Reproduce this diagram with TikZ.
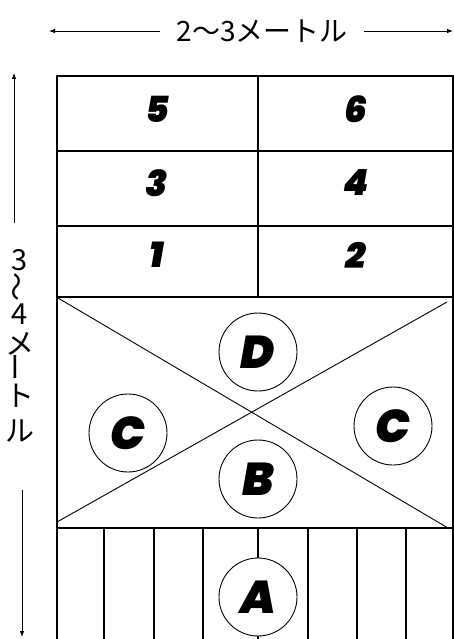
\documentclass[tikz,border=0pt]{standalone}
\usepackage{fontspec}
\usepackage{graphicx}
\usetikzlibrary{arrows.meta}
\newfontfamily\jpfont{Noto Sans CJK JP}
\newfontfamily\popfont{Poppins Black Italic}

\begin{document}
\begin{tikzpicture}[
    x=1pt, y=-1pt,
    jp/.style={font=\jpfont\fontsize{28}{28}\selectfont},
    jpv/.style={font=\jpfont\fontsize{29}{29}\selectfont, inner sep=0pt},
    num/.style={font=\popfont\fontsize{36}{36}\selectfont},
    spot/.style={circle, draw, line width=0.9pt, minimum size=78pt, inner sep=0pt,
                 font=\popfont\fontsize{46}{46}\selectfont},
    wall/.style={line width=2pt},
    crossline/.style={line width=0.9pt},
    dim/.style={-{Latex[length=6pt,width=4.5pt]}, line width=0.8pt},
]
\useasboundingbox (0,0) rectangle (454,639);

% ---- size labels ------------------------------------------------------------
\node[jp, inner xsep=16pt] (wlbl) at (262,31) {2～3メートル};
\coordinate (wl) at (49,31);
\coordinate (wr) at (453,31);
\draw[dim] (wlbl.west) -- (wl);
\draw[dim] (wlbl.east) -- (wr);

% vertical label, one glyph per node
\foreach \c/\y/\n in {3/260/h1, {\rotatebox[origin=c]{90}{～}}/287/h2, 4/314/h3,
                      メ/344/h4, {\rotatebox[origin=c]{90}{ー}}/367/h5, ト/396/h6, ル/431/h7}
  \node[jpv] (\n) at (20,\y) {\c};
\coordinate (hu0) at (14,223);
\coordinate (hu1) at (14,73);
\coordinate (hd0) at (22,490);
\coordinate (hd1) at (22,637);
\draw[dim] (hu0) -- (hu1);
\draw[dim] (hd0) -- (hd1);

% ---- numbered rows ------------------------------------------------------------
\draw[wall] (57,650) -- (57,76) -- (453,76) -- (453,650);
\foreach \y in {151,226,297,528}
  \draw[wall] (57,\y) -- (453,\y);
\draw[wall] (258,76) -- (258,297);

\node[num] (n5) at (157,109) {5};
\node[num] (n6) at (356,109) {6};
\node[num] (n3) at (157,183) {3};
\node[num] (n4) at (356,183) {4};
\node[num] (n1) at (157,255) {1};
\node[num] (n2) at (356,255) {2};

% ---- crossed area -------------------------------------------------------------
\coordinate (xa) at (58,298);
\coordinate (xb) at (448,528);
\coordinate (xc) at (57,522);
\coordinate (xd) at (447,302);
\draw[crossline] (xa) -- (xb);
\draw[crossline] (xc) -- (xd);

\node[spot] (D)  at (258,352) {D};
\node[spot] (Cl) at (128,433) {C};
\node[spot] (Cr) at (393,426) {C};
\node[spot] (B)  at (258,479) {B};

% ---- striped area -------------------------------------------------------------
\node[spot] (A) at (258,597) {A};
\foreach \x in {104,154,203,308,357,406}
  \draw[wall] (\x,528) -- (\x,650);
\draw[wall] (258,528) -- (A.north);
\draw[wall] (A.south) -- (258,650);

\end{tikzpicture}
\end{document}
